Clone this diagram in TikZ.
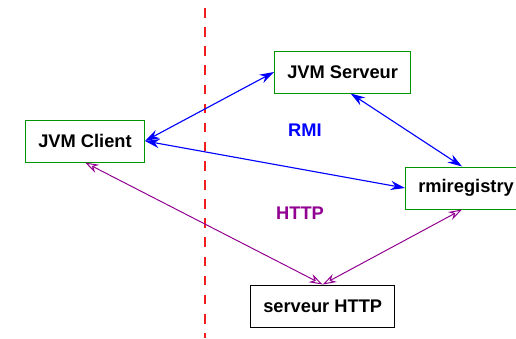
\documentclass[tikz,border=0pt]{standalone}
\usepackage{fontspec}
\setsansfont{Liberation Sans}
\usepackage{xcolor}
\usetikzlibrary{arrows.meta,positioning}
\definecolor{boxgreen}{RGB}{0,150,0}
\definecolor{rmiblue}{RGB}{0,0,255}
\definecolor{httppurple}{RGB}{145,0,145}
\definecolor{splitred}{RGB}{240,30,30}

\begin{document}
\begin{tikzpicture}[x=0.025cm, y=-0.025cm,
        box/.style={rectangle,draw=boxgreen,line width=0.7pt,fill=white,anchor=west,
          inner xsep=0.32cm,minimum height=1.05cm,font=\sffamily\bfseries\fontsize{13}{15}\selectfont},
        webbox/.style={box,draw=black},
        rmiarrow/.style={{Stealth[length=3.6mm,width=2.3mm]}-{Stealth[length=3.6mm,width=2.3mm]},draw=rmiblue,line width=0.8pt},
        httparrow/.style={{Stealth[open,length=3.4mm,width=2.2mm]}-{Stealth[open,length=3.4mm,width=2.2mm]},draw=httppurple,line width=0.7pt},
        lbl/.style={font=\sffamily\bfseries\fontsize{13}{15}\selectfont}]
        \useasboundingbox (0,0) rectangle (516,338);
        % client / server split
        \draw[splitred,line width=1.2pt,dash pattern=on 6.8pt off 6.8pt] (205,8) -- (205,338);
        \node[box] (client) at (25,141) {JVM Client};
        \node[box] (srv) at (274,72) {JVM Serveur};
        \node[box,minimum width=2.9cm] (reg) at (405,188) {rmiregistry};
        \node[webbox] (web) at (250,306) {serveur HTTP};
        \node[lbl,text=rmiblue] (rmi) at (305,130) {RMI};
        \node[lbl,text=httppurple] (http) at (300,213) {HTTP};
        \draw[rmiarrow] (client.east) -- (srv.west);
        \draw[rmiarrow] (client.east) -- (reg.west);
        \draw[rmiarrow] ([xshift=0.2cm]srv.south) -- ([xshift=-0.1cm]reg.north);
        \draw[httparrow] (client.south) -- (web.north);
        \draw[httparrow] ([xshift=-0.1cm]reg.south) -- (web.north);
      \end{tikzpicture}
\end{document}
